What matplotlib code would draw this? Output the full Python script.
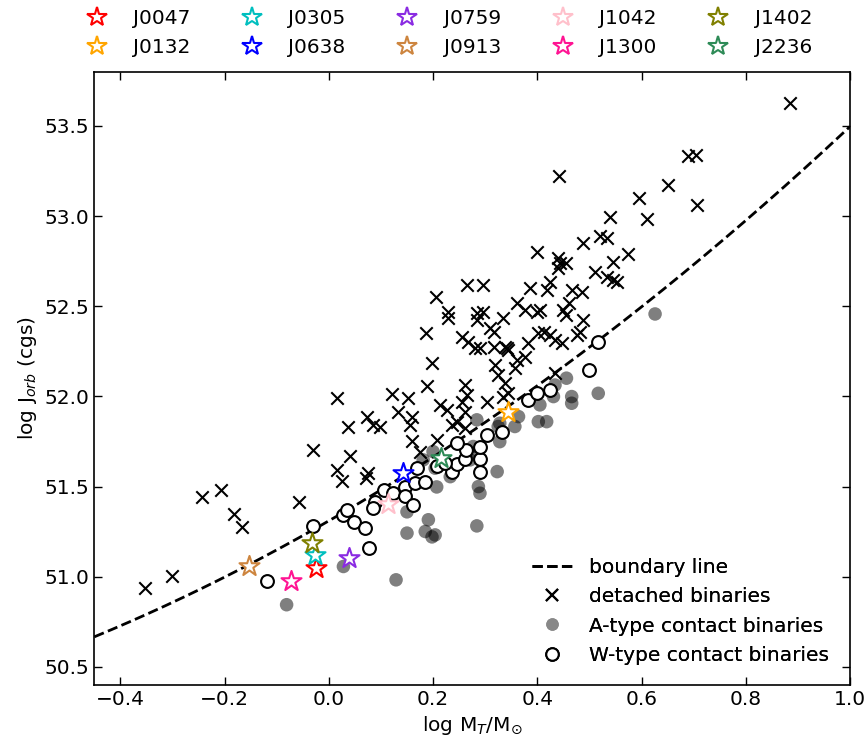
import numpy as np
import matplotlib
matplotlib.use("Agg")
import matplotlib.pyplot as plt
from matplotlib.lines import Line2D

# ---------------- data ----------------
det_x = [-0.353, -0.301, -0.243, -0.207, -0.182, -0.167, -0.057, -0.030, 0.016, 0.037,
         0.041, 0.016, 0.025, 0.073, 0.085, 0.098, 0.075, 0.071, 0.121, 0.152,
         0.133, 0.160, 0.156, 0.188, 0.198, 0.160, 0.175, 0.208, 0.213, 0.227,
         0.265, 0.296, 0.206, 0.229, 0.229, 0.284, 0.296, 0.187, 0.255, 0.268,
         0.281, 0.309, 0.316, 0.319, 0.261, 0.265, 0.303, 0.236, 0.261, 0.245,
         0.261, 0.399, 0.440, 0.456, 0.440, 0.511, 0.546, 0.533, 0.546, 0.386,
         0.424, 0.418, 0.466, 0.485, 0.361, 0.377, 0.399, 0.405, 0.450, 0.456,
         0.460, 0.488, 0.284, 0.335, 0.316, 0.290, 0.338, 0.344, 0.361, 0.377,
         0.383, 0.402, 0.412, 0.424, 0.434, 0.447, 0.476, 0.482, 0.325, 0.338,
         0.255, 0.335, 0.344, 0.357, 0.434, 0.442, 0.651, 0.596, 0.540, 0.611,
         0.488, 0.520, 0.533, 0.444, 0.575, 0.552, 0.885, 0.690, 0.705, 0.706,
         0.341]
det_y = [50.939, 51.005, 51.443, 51.482, 51.349, 51.277, 51.415, 51.703, 51.991, 51.831,
         51.670, 51.593, 51.532, 51.886, 51.842, 51.831, 51.576, 51.548, 52.014, 51.991,
         51.914, 51.886, 51.842, 52.058, 52.185, 51.753, 51.692, 51.759, 51.953, 51.925,
         52.618, 52.618, 52.549, 52.470, 52.433, 52.461, 52.470, 52.353, 52.331, 52.303,
         52.267, 52.378, 52.276, 52.174, 52.063, 52.008, 51.971, 51.842, 51.916, 51.860,
         51.824, 52.802, 52.765, 52.738, 52.710, 52.691, 52.747, 52.663, 52.645, 52.599,
         52.636, 52.590, 52.590, 52.580, 52.516, 52.479, 52.470, 52.479, 52.479, 52.451,
         52.516, 52.424, 52.424, 52.433, 52.359, 52.267, 52.276, 52.257, 52.202, 52.220,
         52.294, 52.350, 52.359, 52.340, 52.313, 52.294, 52.340, 52.359, 52.119, 52.073,
         51.971, 51.999, 52.017, 52.156, 52.128, 53.221, 53.171, 53.101, 52.996, 52.981,
         52.852, 52.889, 52.876, 52.738, 52.789, 52.636, 53.624, 53.332, 53.338, 53.061,
         52.268]

a_x = [-0.081, 0.028, 0.129, 0.150, 0.191, 0.185, 0.198, 0.204, 0.284, 0.150,
       0.207, 0.287, 0.290, 0.323, 0.284, 0.325, 0.204, 0.181, 0.271, 0.284,
       0.456, 0.517, 0.466, 0.466, 0.431, 0.402, 0.418, 0.405, 0.434, 0.364,
       0.328, 0.328, 0.357, 0.626, 0.200, 0.277, 0.233]
a_y = [50.845, 51.057, 50.983, 51.242, 51.316, 51.251, 51.221, 51.232, 51.282, 51.360,
       51.498, 51.500, 51.463, 51.583, 51.870, 51.833, 51.602, 51.648, 51.648, 51.685,
       52.101, 52.017, 51.999, 51.962, 51.999, 51.860, 51.860, 51.953, 52.063, 51.888,
       51.851, 51.749, 51.833, 52.457, 51.694, 51.722, 51.555]

w_x = [-0.119, -0.030, 0.028, 0.048, 0.070, 0.078, 0.034, 0.089, 0.085, 0.105,
       0.124, 0.146, 0.146, 0.162, 0.165, 0.169, 0.185, 0.207, 0.236, 0.245,
       0.261, 0.263, 0.245, 0.290, 0.290, 0.290, 0.303, 0.332, 0.383, 0.399,
       0.424, 0.499, 0.516, 0.223]
w_y = [50.978, 51.284, 51.343, 51.303, 51.270, 51.158, 51.371, 51.417, 51.380, 51.482,
       51.463, 51.500, 51.445, 51.399, 51.522, 51.602, 51.528, 51.615, 51.583, 51.626,
       51.654, 51.703, 51.740, 51.654, 51.717, 51.583, 51.786, 51.805, 51.980, 52.017,
       52.033, 52.145, 52.302, 51.630]

star_names = ["J0047", "J0132", "J0305", "J0638", "J0759",
              "J0913", "J1042", "J1300", "J1402", "J2236"]
star_x = [-0.025, 0.344, -0.027, 0.143, 0.039, -0.153, 0.114, -0.073, -0.033, 0.215]
star_y = [51.048, 51.916, 51.122, 51.578, 51.103, 51.057, 51.404, 50.974, 51.186, 51.657]
star_colors = ["red", "orange", "c", "blue", "blueviolet",
               "peru", "pink", "deeppink", "olive", "seagreen"]

# boundary line coefficients: log J = a (log M)^2 + b log M + c
bnd_a, bnd_b, bnd_c = 0.522, 1.664, 51.31

# ---------------- plot ----------------
FS = 14.5
plt.rcParams['font.family'] = ['DejaVu Sans']
fig = plt.figure(figsize=(8.66, 7.41), dpi=100)
ax = fig.add_axes([0.1089, 0.0756, 0.8726, 0.8276])

xm = np.linspace(-0.45, 1.0, 300)
bl, = ax.plot(xm, bnd_a * xm**2 + bnd_b * xm + bnd_c, 'k--', lw=2, label='boundary line')
ax.scatter(det_x, det_y, marker='x', s=80, c='k', linewidths=1.5, zorder=2)
ax.scatter(a_x, a_y, marker='o', s=95, c='k', alpha=0.5, edgecolors='none', zorder=3)
ax.scatter(w_x, w_y, marker='o', s=85, facecolors='white', edgecolors='k',
           linewidths=1.5, zorder=4)

star_handles = []
for n, x, y, c in zip(star_names, star_x, star_y, star_colors):
    ax.scatter([x], [y], marker='*', s=230, facecolors='white', edgecolors=c,
               linewidths=1.5, zorder=5)
    star_handles.append(Line2D([], [], ls='none', marker='*', markersize=15,
                               markerfacecolor='white', markeredgecolor=c,
                               markeredgewidth=1.5, label=n))

ax.set_xlim(-0.45, 1.0)
ax.set_ylim(50.4, 53.8)
ax.set_xticks([-0.4, -0.2, 0.0, 0.2, 0.4, 0.6, 0.8, 1.0])
ax.set_yticks([50.5, 51.0, 51.5, 52.0, 52.5, 53.0, 53.5])
ax.tick_params(direction='in', top=True, right=True, labelsize=FS, length=6, width=1)
for s in ax.spines.values():
    s.set_linewidth(1.2)
ax.set_xlabel(r'log M$_{T}$/M$_{\odot}$', fontsize=FS)
ax.set_ylabel(r'log J$_{orb}$ (cgs)', fontsize=FS)

h_det = Line2D([], [], ls='none', marker='x', color='k', markersize=8,
               markeredgewidth=1.5, label='detached binaries')
h_a = Line2D([], [], ls='none', marker='o', color='#888888', markersize=9,
             markeredgewidth=0, label='A-type contact binaries')
h_w = Line2D([], [], ls='none', marker='o', markerfacecolor='white',
             markeredgecolor='k', markersize=9, markeredgewidth=1.5,
             label='W-type contact binaries')
leg1 = ax.legend(handles=[bl, h_det, h_a, h_w], loc='lower right', frameon=False,
                 fontsize=FS, handlelength=2.0, borderaxespad=0.4,
                 bbox_to_anchor=(0.993, 0.007), labelspacing=0.5)
ax.add_artist(leg1)

fig.legend(handles=star_handles, loc='upper center', ncol=5, frameon=False,
           fontsize=FS, bbox_to_anchor=(0.513, 1.012), columnspacing=2.07,
           handletextpad=0.8, labelspacing=0.5)

fig.savefig('out.png', dpi=100)
